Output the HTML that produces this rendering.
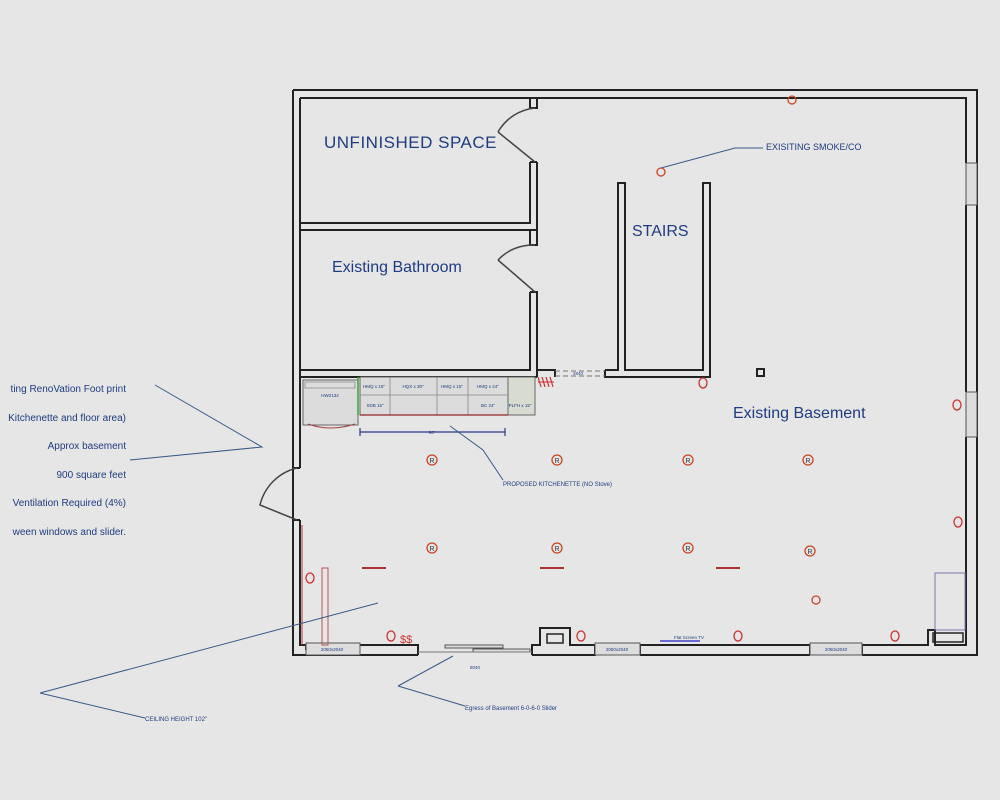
<!DOCTYPE html>
<html><head><meta charset="utf-8"><style>
html,body{margin:0;padding:0;background:#e6e6e6;}
svg{display:block;}
text{font-family:"Liberation Sans",sans-serif;fill:#1e3c82;}
</style></head><body>
<svg width="1000" height="800" viewBox="0 0 1000 800" xmlns="http://www.w3.org/2000/svg">
<rect width="1000" height="800" fill="#e6e6e6"/>
<g fill="none" stroke="#222" stroke-width="2">
<!-- outer wall -->
<path d="M293,90 H977 V655 H862 M293,90 V655 H418"/>
<path d="M300,98 H966 V163 M966,205 V392 M966,437 V645 H935 V630 H928 V645 H862"/>
<path d="M977,163 V205 M977,392 V437"/>
<rect x="933" y="633" width="30" height="9" stroke-width="1.5"/>
<path d="M300,98 V468 M300,520 V645 H306"/>
<path d="M293,468 H300 M293,520 H300"/>
<!-- bottom wall segments -->
<path d="M306,645 V650 M360,645 H418 V655"/>
<path d="M532,655 V645 H540 V628 H570 V645 H595 V655 H532"/>
<rect x="547" y="634" width="16" height="9" stroke-width="1.5"/>
<path d="M640,645 H810 M640,655 H810 M862,645 V655 M810,645 V655"/>
<path d="M595,645 V655 M640,645 V655"/>
<!-- unfinished space -->
<path d="M300,223 H530 V162 M537,162 V230 H300"/>
<path d="M530,98 V108 H537 V98 M530,162 H537"/>
<!-- bathroom -->
<path d="M530,230 V245 H537 V230 M530,292 H537 V377 M530,292 V370 H300 M537,377 H300"/>
<path d="M537,370 H555 V377 M605,370 V377 H710 V183 H703 V370 H625 V183 H618 V370 H605"/>
<rect x="757" y="369" width="7" height="7"/>
</g>
<!-- windows -->
<g stroke="#555" stroke-width="1" fill="#ddd">
<rect x="306" y="643" width="54" height="12"/>
<rect x="595" y="643" width="45" height="12"/>
<rect x="810" y="643" width="52" height="12"/>
<rect x="966" y="163" width="11" height="42"/>
<rect x="966" y="392" width="11" height="45"/>
<rect x="445" y="645" width="58" height="3"/>
<rect x="473" y="649" width="57" height="3"/>
</g>
<path d="M418,652 H532" stroke="#777" stroke-width="1"/>
<g stroke="#777" stroke-width="1" stroke-dasharray="5,3"><path d="M555,371 H605 M555,376 H605"/></g>
<!-- doors -->
<g fill="none" stroke="#444" stroke-width="1.5">
<path d="M535,162 L498,132 M498,132 A48,48 0 0 1 535,108"/>
<path d="M535,292 L498,260 M498,260 A48,48 0 0 1 535,245"/>
<path d="M297,520 L260,505 A50,50 0 0 1 297,468"/>
</g>
<!-- kitchenette -->
<g stroke="#666" stroke-width="1" fill="#dcdcdc">
<rect x="303" y="380" width="55" height="45"/>
<rect x="360" y="377" width="148" height="38"/>
<rect x="508" y="377" width="27" height="38" fill="#d8dcd0"/>
</g>
<g stroke="#888" stroke-width="0.8" fill="none">
<path d="M360,395 H508 M390,377 V415 M437,377 V415 M468,377 V415"/>
<path d="M305,382 H355 V388 H305Z"/>
</g>
<path d="M360,415 H508" stroke="#a04040" stroke-width="1.5"/>
<path d="M308,424 Q330,432 355,424" stroke="#a04040" fill="none"/>
<path d="M360,432 H505 M360,428 V436 M505,428 V436" stroke="#2a3a8a" stroke-width="1.2"/>
<path d="M358,377 V415" stroke="#3a3" stroke-width="1.5"/>
<path d="M538,377 l3,10 M542,377 l3,10 M546,377 l3,10 M550,377 l3,10" stroke="#c33" stroke-width="1.2"/>
<path d="M538,382 H554" stroke="#c33" stroke-width="1"/>
<!-- small labels -->
<g font-size="4.5" text-anchor="middle">
<text x="330" y="397">HW2134</text><text x="374" y="388">HMQ x 15"</text><text x="413" y="388">HQX x 30"</text><text x="452" y="388">HMQ x 15"</text><text x="488" y="388">HMQ x 24"</text>
<text x="375" y="407">SDB 15"</text><text x="488" y="407">BC 24"</text><text x="520" y="407">PLFH x 15"</text>
<text x="432" y="434">96"</text><text x="475" y="669">8040</text><text x="332" y="651">2050x2040</text><text x="617" y="651">2050x2040</text><text x="836" y="651">2050x2040</text>
<text x="578" y="375">2840</text><text x="689" y="639">Flat Screen TV</text>
</g>
<path d="M660,641 H700" stroke="#6a6ad0" stroke-width="2"/>
<rect x="935" y="573" width="30" height="57" fill="none" stroke="#7a7ab0" stroke-width="1"/>
<path d="M322,568 V645 H328 V568 Z" fill="none" stroke="#b55" stroke-width="1"/>
<path d="M302,525 V645" stroke="#b33" stroke-width="1"/>
<!-- lights -->
<g stroke="#c42" stroke-width="1.3" fill="none">
<circle cx="432" cy="460" r="5"/><circle cx="557" cy="460" r="5"/><circle cx="688" cy="460" r="5"/><circle cx="808" cy="460" r="5"/>
<circle cx="432" cy="548" r="5"/><circle cx="557" cy="548" r="5"/><circle cx="688" cy="548" r="5"/><circle cx="810" cy="551" r="5"/>
<circle cx="816" cy="600" r="4"/><circle cx="661" cy="172" r="4"/><circle cx="792" cy="100" r="4"/>
</g>
<g font-size="7" text-anchor="middle" fill="#333">
<text x="432" y="463" style="fill:#333">R</text><text x="557" y="463" style="fill:#333">R</text><text x="688" y="463" style="fill:#333">R</text><text x="808" y="463" style="fill:#333">R</text>
<text x="432" y="551" style="fill:#333">R</text><text x="557" y="551" style="fill:#333">R</text><text x="688" y="551" style="fill:#333">R</text><text x="810" y="554" style="fill:#333">R</text>
</g>
<g stroke="#a33" stroke-width="2"><path d="M362,568 H386 M540,568 H564 M716,568 H740"/></g>
<!-- outlets -->
<g stroke="#c33" stroke-width="1.3" fill="none">
<ellipse cx="703" cy="383" rx="4" ry="5"/><ellipse cx="957" cy="405" rx="4" ry="5"/><ellipse cx="958" cy="522" rx="4" ry="5"/>
<ellipse cx="310" cy="578" rx="4" ry="5"/><ellipse cx="391" cy="636" rx="4" ry="5"/><ellipse cx="581" cy="636" rx="4" ry="5"/>
<ellipse cx="738" cy="636" rx="4" ry="5"/><ellipse cx="895" cy="636" rx="4" ry="5"/>
</g>
<text x="400" y="643" font-size="11" style="fill:#c33">$$</text>
<!-- leader lines -->
<g stroke="#3a5a8a" stroke-width="1" fill="none">
<path d="M155,385 L262,447 L130,460"/>
<path d="M40,693 L145,718 M40,693 L378,603"/>
<path d="M450,426 L483,450 L503,480"/>
<path d="M398,686 L465,706 M398,686 L453,656"/>
<path d="M661,168 L735,148 H763"/>
</g>
<!-- big labels -->
<text x="324" y="148" font-size="17" letter-spacing="0.5">UNFINISHED SPACE</text>
<text x="332" y="272" font-size="16">Existing Bathroom</text>
<text x="632" y="236" font-size="16">STAIRS</text>
<text x="733" y="418" font-size="16">Existing Basement</text>
<text x="766" y="150" font-size="9">EXISITING SMOKE/CO</text>
<text x="503" y="486" font-size="6">PROPOSED KITCHENETTE (NO Stove)</text>
<text x="465" y="710" font-size="6">Egress of Basement 6-0-6-0 Slider</text>
<text x="145" y="721" font-size="6">CEILING HEIGHT 102"</text>
<g font-size="10" text-anchor="end">
<text x="126" y="392">ting RenoVation Foot print</text>
<text x="126" y="421">Kitchenette and floor area)</text>
<text x="126" y="449">Approx basement</text>
<text x="126" y="478">900 square feet</text>
<text x="126" y="506">Ventilation Required (4%)</text>
<text x="126" y="535">ween windows and slider.</text>
</g>
</svg>
</body></html>
